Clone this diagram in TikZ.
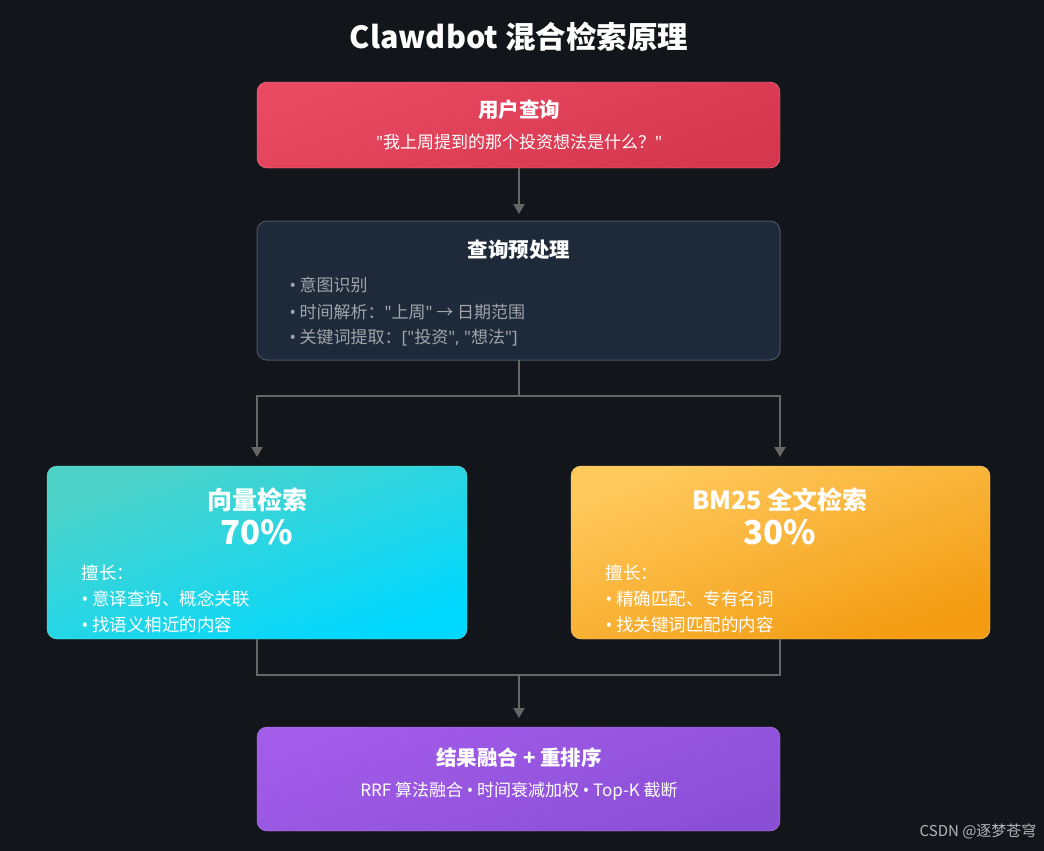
\documentclass[tikz,border=0pt]{standalone}
\usepackage{fontspec}
\setmainfont{Noto Sans CJK SC}
\newfontfamily\lat{Noto Sans}
\newcommand\qq{{\lat"}}
\newcommand\bul{{\lat•}}
\usetikzlibrary{arrows.meta}
\definecolor{bg}{HTML}{121519}
\definecolor{ln}{HTML}{666666}
\definecolor{rA}{HTML}{E94A62}\definecolor{rB}{HTML}{D5374F}
\definecolor{bx}{HTML}{1E2A3A}\definecolor{bb}{HTML}{4A5568}
\definecolor{tA}{HTML}{4FD3C8}\definecolor{tB}{HTML}{00D8FF}
\definecolor{oA}{HTML}{FFC95C}\definecolor{oB}{HTML}{F39C12}
\definecolor{pA}{HTML}{A25CE9}\definecolor{pB}{HTML}{8B4FD6}
\definecolor{gt}{HTML}{A0A4AA}
\tikzset{box/.style={rounded corners=10pt,inner sep=0pt},
 grad/.style={shading angle=20},
 conn/.style={ln,line width=2pt},
 arr/.style={conn,-{Triangle[length=10pt,width=11pt]}},
 ttl/.style={text=white,font=\bfseries\fontsize{20.5}{22}\selectfont},
 sub/.style={text=white,font=\fontsize{17}{19}\selectfont},
 gry/.style={text=gt,font=\fontsize{17}{19}\selectfont,anchor=west},
 wht/.style={text=white,font=\fontsize{17.5}{19}\selectfont,anchor=west}}
\begin{document}
\begin{tikzpicture}[x=1pt,y=-1pt]
\fill[bg] (0,0) rectangle (1044,851);
\useasboundingbox (0,0) rectangle (1044,851);
\node[text=white,font=\bfseries\fontsize{30.5}{32}\selectfont] (title) at (519,37) {Clawdbot 混合检索原理};
% box1
\shade[box,left color=rA,right color=rB,grad,draw=rA!70!white] (257,82) rectangle (780,168);
\coordinate (b1) at (519,168);
\node[ttl] (t1) at (519,110) {用户查询};
\node[sub] (s1) at (519,142) {\qq 我上周提到的那个投资想法是什么？\qq};
% box2
\fill[box,bx,draw=bb,line width=1pt] (257,221) rectangle (780,360);
\coordinate (b2) at (519,360);
\node[ttl] (t2) at (519,250) {查询预处理};
\node[gry] (g1) at (286,285) {\bul\ 意图识别};
\node[gry] (g2) at (286,312) {\bul\ 时间解析：\qq 上周\qq\ → 日期范围};
\node[gry] (g3) at (286,338) {\bul\ 关键词提取：{\lat[}\qq 投资\qq{\lat, }\qq 想法\qq{\lat]}};
\draw[arr] (b1) -- (519,214);
% box3
\shade[box,left color=tA,right color=tB,grad,draw=tA!80!white] (47,466) rectangle (467,639);
\coordinate (b3) at (257,639);
\node[text=white,font=\bfseries\fontsize{25}{27}\selectfont] (t3) at (257,500) {向量检索};
\node[text=white,font=\bfseries\fontsize{33}{35}\selectfont] (p3) at (257,532) {70\%};
\node[wht] (w1) at (78,573) {擅长：};
\node[wht] (w2) at (78,599) {\bul\ 意译查询、概念关联};
\node[wht] (w3) at (78,625) {\bul\ 找语义相近的内容};
% box4
\shade[box,left color=oA,right color=oB,grad,draw=oA!80!white] (571,466) rectangle (990,639);
\coordinate (b4) at (780,639);
\node[text=white,font=\bfseries\fontsize{25}{27}\selectfont] (t4) at (780,500) {BM25 全文检索};
\node[text=white,font=\bfseries\fontsize{33}{35}\selectfont] (p4) at (780,532) {30\%};
\node[wht] (v1) at (602,573) {擅长：};
\node[wht] (v2) at (602,599) {\bul\ 精确匹配、专有名词};
\node[wht] (v3) at (602,625) {\bul\ 找关键词匹配的内容};
% split
\draw[conn] (b2) -- (519,396);
\draw[arr] (519,396) -| (257,457);
\draw[arr] (519,396) -| (780,457);
% box5
\shade[box,left color=pA,right color=pB,grad,draw=pA!80!white] (257,727) rectangle (780,831);
\node[ttl] (t5) at (519,758) {结果融合 + 重排序};
\node[sub] (s5) at (519,791) {RRF 算法融合 \bul\ 时间衰减加权 \bul\ Top-K 截断};
\draw[conn] (b3) |- (519,675) -| (b4);
\draw[arr] (519,675) -- (519,718);
\node[text=gt!80!white,font=\fontsize{15}{17}\selectfont,anchor=east] (wm) at (1040,831) {CSDN @逐梦苍穹};
\end{tikzpicture}
\end{document}
